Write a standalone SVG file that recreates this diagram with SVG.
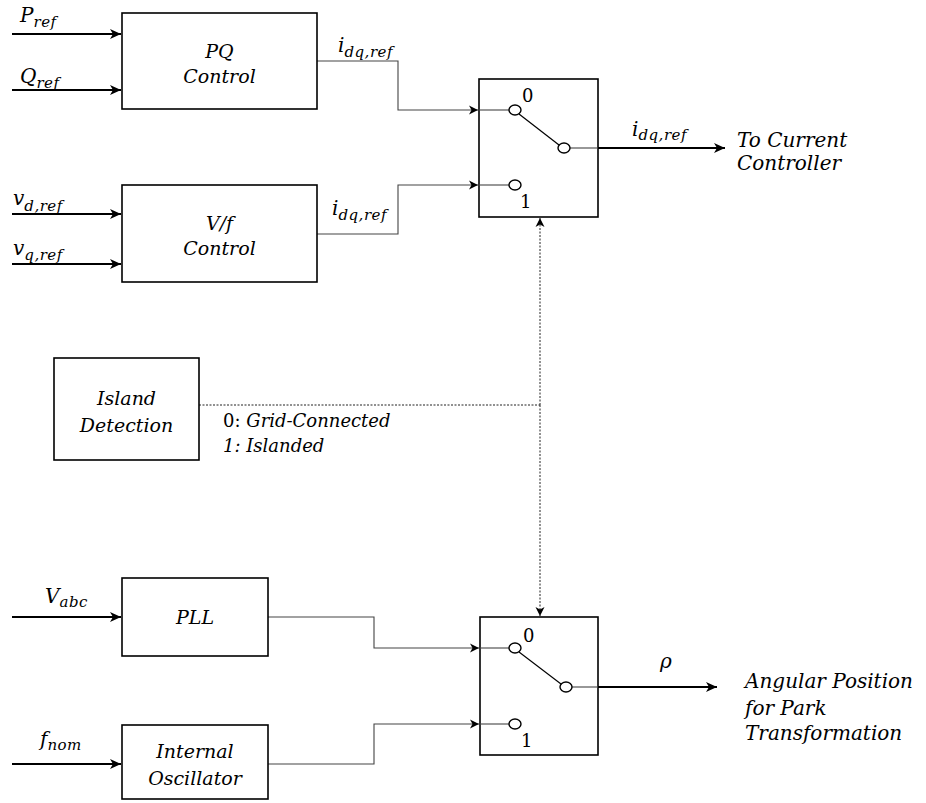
<svg xmlns="http://www.w3.org/2000/svg" width="926" height="803" viewBox="0 0 926 803">
<style>
.box{fill:#fff;stroke:#000;stroke-width:1.6}
.lbl{font-family:"DejaVu Serif",serif;font-style:italic;font-size:19px;fill:#000;text-anchor:middle}
.m{font-family:"DejaVu Serif",serif;font-style:italic;font-size:20px;fill:#000}
.sub{font-size:15px;letter-spacing:0.5px}
.dig{font-family:"DejaVu Serif",serif;font-size:18px;fill:#000}
.txt{font-family:"DejaVu Serif",serif;font-style:italic;font-size:20px;fill:#000}
.note{font-family:"DejaVu Serif",serif;font-size:18px;fill:#000}
.thick{fill:none;stroke:#000;stroke-width:2.2}
.thin{fill:none;stroke:#444;stroke-width:1.1}
.dot{fill:none;stroke:#222;stroke-width:1;stroke-dasharray:2 1.5}
.term{fill:#fff;stroke:#000;stroke-width:1.4}
</style>
<defs>
<marker id="ah" markerUnits="userSpaceOnUse" markerWidth="12" markerHeight="12" refX="11" refY="6" orient="auto" viewBox="0 0 12 12">
<path d="M0,1 L11,6 L0,11 L3,6 z" fill="#000"/>
</marker>
<marker id="ahs" markerUnits="userSpaceOnUse" markerWidth="10" markerHeight="10" refX="9" refY="5" orient="auto" viewBox="0 0 10 10">
<path d="M0,0.5 L9,5 L0,9.5 L2.5,5 z" fill="#000"/>
</marker>
</defs>

<g id="connectors">
<!-- inputs -->
<line class="thick" x1="12" y1="34" x2="121" y2="34" marker-end="url(#ah)"/>
<line class="thick" x1="12" y1="90" x2="121" y2="90" marker-end="url(#ah)"/>
<line class="thick" x1="12" y1="214" x2="121" y2="214" marker-end="url(#ah)"/>
<line class="thick" x1="12" y1="264" x2="121" y2="264" marker-end="url(#ah)"/>
<line class="thick" x1="12" y1="617" x2="121" y2="617" marker-end="url(#ah)"/>
<line class="thick" x1="12" y1="764" x2="121" y2="764" marker-end="url(#ah)"/>
<!-- to top switch -->
<polyline class="thin" points="317,61 398,61 398,110 478,110" marker-end="url(#ahs)"/>
<polyline class="thin" points="317,234 398,234 398,185 478,185" marker-end="url(#ahs)"/>
<!-- to bottom switch -->
<polyline class="thin" points="268,617 374,617 374,648 479,648" marker-end="url(#ahs)"/>
<polyline class="thin" points="268,764 374,764 374,724 479,724" marker-end="url(#ahs)"/>
<!-- outputs -->
<line class="thick" x1="598" y1="148" x2="725" y2="148" marker-end="url(#ah)"/>
<line class="thick" x1="598" y1="687" x2="717" y2="687" marker-end="url(#ah)"/>
<!-- island detection signal -->
<line class="dot" x1="199" y1="405" x2="540" y2="405"/>
<line class="dot" x1="540" y1="405" x2="540" y2="218" marker-end="url(#ahs)"/>
<line class="dot" x1="540" y1="405" x2="540" y2="616" marker-end="url(#ahs)"/>
</g>

<g id="pq-control">
<rect class="box" x="122" y="13" width="195" height="96"/>
<text class="lbl" x="219.5" y="58">PQ</text>
<text class="lbl" x="219.5" y="83">Control</text>
</g>

<g id="vf-control">
<rect class="box" x="122" y="185" width="195" height="97"/>
<text class="lbl" x="219.5" y="230">V/f</text>
<text class="lbl" x="219.5" y="255">Control</text>
</g>

<g id="island-detection">
<rect class="box" x="54" y="358" width="145" height="102"/>
<text class="lbl" x="126.5" y="405">Island</text>
<text class="lbl" x="126.5" y="432">Detection</text>
</g>

<g id="pll">
<rect class="box" x="122" y="578" width="146" height="78"/>
<text class="lbl" x="195" y="624">PLL</text>
</g>

<g id="internal-oscillator">
<rect class="box" x="122" y="725" width="146" height="74"/>
<text class="lbl" x="195" y="758">Internal</text>
<text class="lbl" x="195" y="785">Oscillator</text>
</g>

<g id="switch-top">
<rect class="box" x="479" y="79" width="119" height="138"/>
<line class="thin" x1="479" y1="110" x2="509" y2="110"/>
<line class="thin" x1="479" y1="185" x2="509" y2="185"/>
<line class="thin" x1="570" y1="148" x2="598" y2="148"/>
<line stroke="#000" stroke-width="1.2" x1="519" y1="114" x2="559" y2="145"/>
<ellipse class="term" cx="515" cy="110" rx="6" ry="5"/>
<ellipse class="term" cx="515" cy="185" rx="6" ry="5"/>
<ellipse class="term" cx="564" cy="148" rx="6" ry="5"/>
<text class="dig" x="522" y="102">0</text>
<text class="dig" x="520" y="208">1</text>
</g>

<g id="switch-bottom">
<rect class="box" x="480" y="617" width="118" height="138"/>
<line class="thin" x1="480" y1="648" x2="509" y2="648"/>
<line class="thin" x1="480" y1="724" x2="509" y2="724"/>
<line class="thin" x1="572" y1="687" x2="598" y2="687"/>
<line stroke="#000" stroke-width="1.2" x1="519" y1="652" x2="561" y2="684"/>
<ellipse class="term" cx="515" cy="648" rx="6" ry="5"/>
<ellipse class="term" cx="515" cy="724" rx="6" ry="5"/>
<ellipse class="term" cx="566" cy="687" rx="6" ry="5"/>
<text class="dig" x="523" y="642">0</text>
<text class="dig" x="521" y="747">1</text>
</g>

<g id="labels">
<text class="m" x="20" y="22">P<tspan class="sub" dy="5">ref</tspan></text>
<text class="m" x="20" y="83">Q<tspan class="sub" dy="5">ref</tspan></text>
<text class="m" x="13" y="205">v<tspan class="sub" dy="6">d,ref</tspan></text>
<text class="m" x="13" y="255">v<tspan class="sub" dy="5">q,ref</tspan></text>
<text class="m" x="338" y="52">i<tspan class="sub" dy="5">dq,ref</tspan></text>
<text class="m" x="332" y="215">i<tspan class="sub" dy="5">dq,ref</tspan></text>
<text class="m" x="632" y="136">i<tspan class="sub" dy="4">dq,ref</tspan></text>
<text class="m" x="45" y="603">V<tspan class="sub" dy="4">abc</tspan></text>
<text class="m" x="40" y="746">f<tspan class="sub" dy="4">nom</tspan></text>
<text class="m" x="660" y="668">ρ</text>
<text class="txt" x="737" y="147">To Current</text>
<text class="txt" x="737" y="170">Controller</text>
<text class="txt" x="745" y="688">Angular Position</text>
<text class="txt" x="745" y="715">for Park</text>
<text class="txt" x="745" y="740">Transformation</text>
<text class="note" x="223" y="427">0: <tspan font-style="italic">Grid-Connected</tspan></text>
<text class="note" x="223" y="452" font-style="italic">1: Islanded</text>
</g>
</svg>
